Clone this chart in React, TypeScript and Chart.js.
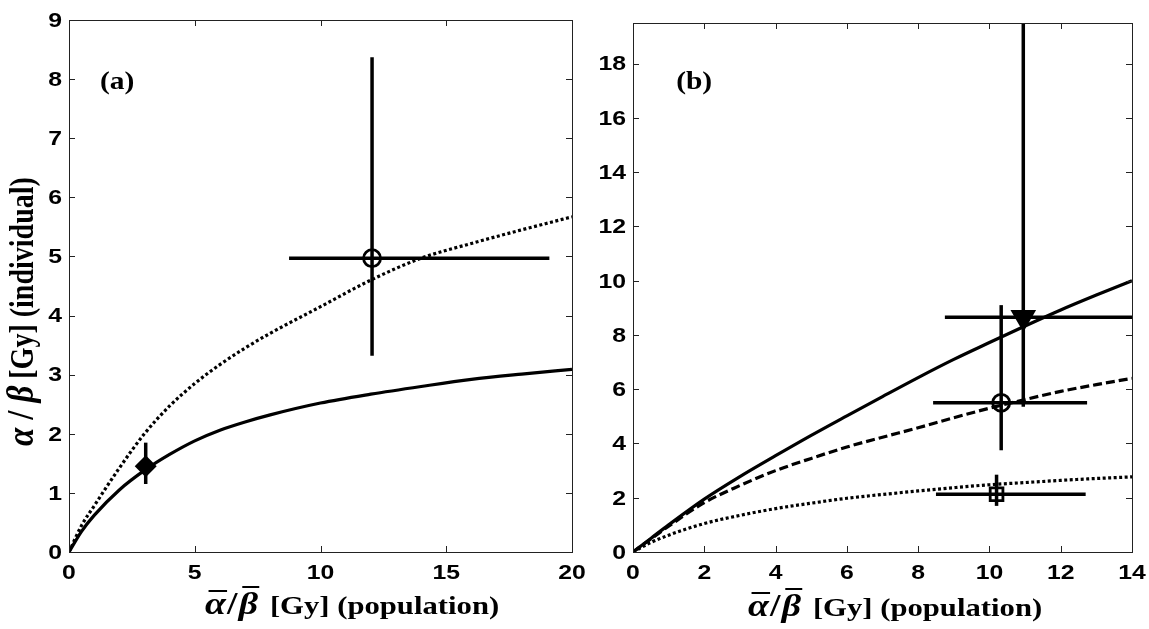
import React, { useEffect, useRef } from "react";
import { Chart, registerables } from "chart.js";
Chart.register(...registerables);

// ---------- Panel (a) ----------
const xA = [0, 0.5, 1, 2, 3, 4, 5, 6, 7, 8, 10, 12, 14, 16, 18, 20];
const solidA = [0, 0.35, 0.62, 1.05, 1.38, 1.65, 1.88, 2.06, 2.2, 2.32, 2.52, 2.67, 2.8, 2.92, 3.01, 3.09];
const dottedA = [0, 0.45, 0.78, 1.42, 2.0, 2.47, 2.85, 3.17, 3.45, 3.7, 4.15, 4.6, 4.97, 5.22, 5.45, 5.67];
const xTicksA = [0, 5, 10, 15, 20];
const yTicksA = [0, 1, 2, 3, 4, 5, 6, 7, 8, 9];
// markers: diamond, circle
const markAX = [3.05, 12.05];
const markAY = [1.45, 4.97];
const xErrLoA = [null, 8.75];
const xErrHiA = [null, 19.1];
const yErrLoA = [1.15, 3.32];
const yErrHiA = [1.85, 8.37];

// ---------- Panel (b) ----------
const xB = [0, 0.5, 1, 2, 3, 4, 5, 6, 7, 8, 9, 10, 11, 12, 13, 14];
const solidB = [0, 0.5, 1.0, 1.95, 2.78, 3.55, 4.3, 5.02, 5.73, 6.43, 7.1, 7.72, 8.33, 8.92, 9.47, 10.0];
const dashedB = [0, 0.48, 0.95, 1.82, 2.45, 3.0, 3.45, 3.87, 4.23, 4.58, 4.95, 5.3, 5.62, 5.92, 6.17, 6.4];
const dottedB = [0, 0.35, 0.62, 1.05, 1.35, 1.6, 1.8, 1.98, 2.12, 2.25, 2.37, 2.48, 2.56, 2.64, 2.71, 2.77];
const xTicksB = [0, 2, 4, 6, 8, 10, 12, 14];
const yTicksB = [0, 2, 4, 6, 8, 10, 12, 14, 16, 18];
// markers: triangle, circle, square
const markBX = [10.95, 10.33, 10.2];
const markBY = [8.65, 5.5, 2.13];
const xErrLoB = [8.75, 8.42, 8.5];
const xErrHiB = [14.5, 12.74, 12.7];
const yErrLoB = [5.35, 3.75, 1.7];
const yErrHiB = [21, 9.1, 2.85];

const SERIF = '"Liberation Serif", "Times New Roman", serif';
const SANS = '"Liberation Sans", Arial, sans-serif';
const STRETCH = 1.18;

type Piece = { text: string; font: string; overline?: boolean; gap?: number; olOffset?: number };

function drawRun(ctx: CanvasRenderingContext2D, pieces: Piece[], x: number, y: number) {
  let cx = x;
  for (const p of pieces) {
    ctx.font = p.font;
    ctx.fillText(p.text, cx, y);
    const w = ctx.measureText(p.text).width;
    if (p.overline) {
      ctx.save();
      ctx.lineWidth = 2;
      ctx.beginPath();
      const oy = y - (p.olOffset || 23);
      ctx.moveTo(cx + 3, oy);
      ctx.lineTo(cx + w + 1, oy);
      ctx.stroke();
      ctx.restore();
    }
    cx += w + (p.gap || 0);
  }
}

const xTitlePieces: Piece[] = [
  { text: "α", font: `italic bold 32px ${SERIF}`, overline: true, gap: 1, olOffset: 23 },
  { text: "/", font: `bold 32px ${SERIF}`, gap: 1 },
  { text: "β", font: `italic bold 32px ${SERIF}`, overline: true, gap: 10, olOffset: 27 },
  { text: "[Gy] (population)", font: `bold 26px ${SERIF}` },
];
const yTitlePieces: Piece[] = [
  { text: "α", font: `italic bold 33px ${SERIF}`, gap: 8 },
  { text: "/", font: `bold 33px ${SERIF}`, gap: 8 },
  { text: "β", font: `italic bold 33px ${SERIF}`, gap: 0 },
  { text: " [Gy] (individual)", font: `bold 28px ${SERIF}` },
];

function decorPlugin(cfg: any) {
  return {
    id: "decor",
    afterDraw(chart: any) {
      const ctx: CanvasRenderingContext2D = chart.ctx;
      const { left, right, top, bottom } = chart.chartArea;
      const xs = chart.scales.x, ys = chart.scales.y;
      ctx.save();
      ctx.strokeStyle = "#222";
      ctx.lineWidth = 1;
      ctx.strokeRect(Math.round(left) + 0.5, Math.round(top) + 0.5, Math.round(right - left), Math.round(bottom - top));
      const tl = 6;
      ctx.beginPath();
      xs.ticks.forEach((t: any) => {
        const p = Math.round(xs.getPixelForValue(t.value)) + 0.5;
        ctx.moveTo(p, bottom); ctx.lineTo(p, bottom - tl);
        ctx.moveTo(p, top); ctx.lineTo(p, top + tl);
      });
      ys.ticks.forEach((t: any) => {
        const p = Math.round(ys.getPixelForValue(t.value)) + 0.5;
        ctx.moveTo(left, p); ctx.lineTo(left + tl, p);
        ctx.moveTo(right, p); ctx.lineTo(right - tl, p);
      });
      ctx.stroke();
      ctx.fillStyle = "#000";
      ctx.strokeStyle = "#000";
      // tick labels (slightly wide, as in the scan)
      ctx.font = `bold 21px ${SANS}`;
      ctx.textAlign = "center";
      ctx.textBaseline = "top";
      xs.ticks.forEach((t: any) => {
        const p = xs.getPixelForValue(t.value);
        ctx.save(); ctx.translate(p, bottom + 11); ctx.scale(STRETCH, 1);
        ctx.fillText(String(t.value), 0, 0); ctx.restore();
      });
      ctx.textAlign = "right";
      ctx.textBaseline = "middle";
      ys.ticks.forEach((t: any) => {
        const p = ys.getPixelForValue(t.value);
        ctx.save(); ctx.translate(left - 7, p + 1); ctx.scale(STRETCH, 1);
        ctx.fillText(String(t.value), 0, 0); ctx.restore();
      });
      // panel label
      ctx.font = `bold 25px ${SERIF}`;
      ctx.textBaseline = "middle";
      ctx.textAlign = "left";
      ctx.save();
      ctx.translate(xs.getPixelForValue(cfg.labelX), ys.getPixelForValue(cfg.labelY));
      ctx.scale(STRETCH, 1);
      ctx.fillText(cfg.label, 0, 0);
      ctx.restore();
      ctx.textBaseline = "alphabetic";
      // x title
      ctx.save();
      ctx.translate(cfg.xTitleX, cfg.xTitleY);
      ctx.scale(STRETCH, 1);
      drawRun(ctx, xTitlePieces, 0, 0);
      ctx.restore();
      // y title
      if (cfg.yTitle) {
        ctx.save();
        ctx.translate(cfg.yTitleX, cfg.yTitleY);
        ctx.scale(STRETCH, 1);
        ctx.rotate(-Math.PI / 2);
        drawRun(ctx, yTitlePieces, 0, 0);
        ctx.restore();
      }
      ctx.restore();
    },
  };
}

function curve(xs: number[], ys: number[], dash: number[]) {
  return {
    data: xs.map((x, i) => ({ x, y: ys[i] })),
    showLine: true,
    pointRadius: 0,
    borderColor: "#000",
    borderWidth: 3.2,
    borderDash: dash,
    cubicInterpolationMode: "monotone",
    fill: false,
  };
}

function errBars(mx: number[], my: number[], xlo: any[], xhi: any[], ylo: any[], yhi: any[]) {
  const out: any[] = [];
  mx.forEach((x, i) => {
    if (xlo[i] != null) {
      out.push({ data: [{ x: xlo[i], y: my[i] }, { x: xhi[i], y: my[i] }], showLine: true, pointRadius: 0, borderColor: "#000", borderWidth: 3.5 });
    }
    if (ylo[i] != null) {
      out.push({ data: [{ x, y: ylo[i] }, { x, y: yhi[i] }], showLine: true, pointRadius: 0, borderColor: "#000", borderWidth: 3.5 });
    }
  });
  return out;
}

function marker(x: number, y: number, style: string, radius: number, filled: boolean, rotation = 0) {
  return {
    data: [{ x, y }],
    pointStyle: style,
    pointRadius: radius,
    pointRotation: rotation,
    pointBorderWidth: 2.8,
    borderColor: "#000",
    pointBorderColor: "#000",
    pointBackgroundColor: filled ? "#000" : "rgba(0,0,0,0)",
    backgroundColor: filled ? "#000" : "rgba(0,0,0,0)",
    showLine: false,
  };
}

function makeOptions(xmin: number, xmax: number, ymin: number, ymax: number, xt: number[], yt: number[], yWidth: number, padTop: number, padRight: number, cfg: any) {
  return {
    type: "scatter",
    options: {
      animation: false,
      responsive: false,
      maintainAspectRatio: false,
      layout: { padding: { left: 0, top: padTop, right: padRight, bottom: 0 } },
      plugins: { legend: { display: false }, tooltip: { enabled: false } },
      scales: {
        x: {
          type: "linear", min: xmin, max: xmax,
          afterBuildTicks: (s: any) => { s.ticks = xt.map((v) => ({ value: v })); },
          afterFit: (s: any) => { s.height = 77; },
          grid: { display: false, drawTicks: false },
          border: { display: false },
          ticks: { display: false },
        },
        y: {
          type: "linear", min: ymin, max: ymax,
          afterBuildTicks: (s: any) => { s.ticks = yt.map((v) => ({ value: v })); },
          afterFit: (s: any) => { s.width = yWidth; },
          grid: { display: false, drawTicks: false },
          border: { display: false },
          ticks: { display: false },
        },
      },
    },
    plugins: [decorPlugin(cfg)],
  };
}

export default function App() {
  const refA = useRef<HTMLCanvasElement>(null);
  const refB = useRef<HTMLCanvasElement>(null);
  useEffect(() => {
    const cA = makeOptions(0, 20, 0, 9, xTicksA, yTicksA, 69, 20, 18, {
      label: "(a)", labelX: 1.23, labelY: 7.95, xTitleX: 205, xTitleY: 614, yTitle: true, yTitleX: 33, yTitleY: 446,
    });
    const dsA = [
      marker(markAX[0], markAY[0], "rectRot", 9, true),
      marker(markAX[1], markAY[1], "circle", 8.5, false),
      ...errBars(markAX, markAY, xErrLoA, xErrHiA, yErrLoA, yErrHiA),
      curve(xA, solidA, []),
      curve(xA, dottedA, [3, 2.5]),
    ];
    const chartA = new Chart(refA.current!, { ...(cA as any), data: { datasets: dsA } });

    const cB = makeOptions(0, 14, 0, 19.5, xTicksB, yTicksB, 43, 23, 17, {
      label: "(b)", labelX: 1.21, labelY: 17.3, xTitleX: 158, xTitleY: 616, yTitle: false,
    });
    const dsB = [
      marker(markBX[0], markBY[0], "triangle", 12, true, 180),
      marker(markBX[1], markBY[1], "circle", 8.5, false),
      marker(markBX[2], markBY[2], "rect", 9, false),
      ...errBars(markBX, markBY, xErrLoB, xErrHiB, yErrLoB, yErrHiB),
      curve(xB, solidB, []),
      curve(xB, dashedB, [9, 4]),
      curve(xB, dottedB, [3, 2.5]),
    ];
    const chartB = new Chart(refB.current!, { ...(cB as any), data: { datasets: dsB } });
    return () => { chartA.destroy(); chartB.destroy(); };
  }, []);

  return (
    <div style={{ position: "fixed", left: 0, top: 0, width: 1149, height: 629, background: "#fff" }}>
      <canvas ref={refA} width={590} height={629} style={{ position: "absolute", left: 0, top: 0 }} />
      <canvas ref={refB} width={559} height={629} style={{ position: "absolute", left: 590, top: 0 }} />
    </div>
  );
}
